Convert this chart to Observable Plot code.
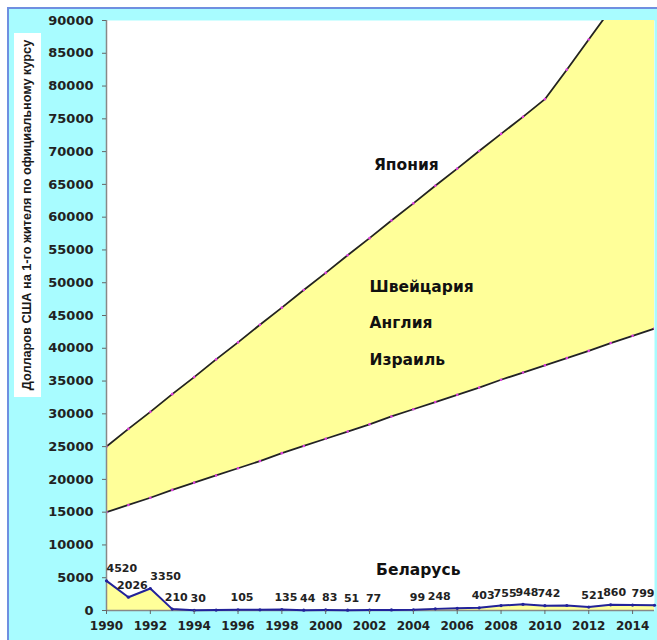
<!DOCTYPE html>
<html><head><meta charset="utf-8">
<script src="https://cdn.jsdelivr.net/npm/d3@7"></script>
<script src="https://cdn.jsdelivr.net/npm/@observablehq/plot@0.6"></script>
<style>
html,body{margin:0;padding:0;background:#fff;}
#wrap{position:relative;width:657px;height:640px;overflow:hidden;background:#fff;}
#panel{position:absolute;left:7px;top:7px;width:650px;height:633px;background:#a8fcff;border-left:2px solid #6f8fe0;border-top:2px solid #6f8fe0;box-sizing:border-box;}
#chart{position:absolute;left:0;top:0;}
#ylab{position:absolute;left:14px;top:397px;width:364px;height:27px;background:#fff;transform-origin:0 0;transform:rotate(-90deg);
 font-family:"Liberation Sans Narrow","Arial Narrow","Liberation Sans",Arial,sans-serif;font-weight:bold;font-size:12.7px;line-height:27px;text-align:center;color:#1a1a1a;white-space:nowrap;}
</style></head>
<body><div id="wrap"><div id="panel"></div><div id="chart"></div><div id="ylab">Долларов США на 1-го жителя по официальному курсу</div></div>
<script>
const years = [1990,1991,1992,1993,1994,1995,1996,1997,1998,1999,2000,2001,2002,2003,2004,2005,2006,2007,2008,2009,2010,2011,2012,2013,2014,2015];
const upperBand = [25000,27700,30300,33000,35600,38300,40900,43600,46200,48900,51500,54200,56800,59500,62100,64800,67400,70100,72700,75300,78000,82500,87100,91700,96300,100900];
const lowerBand = [15000,16100,17200,18400,19500,20600,21700,22800,24000,25100,26200,27300,28400,29600,30700,31800,32900,34000,35200,36300,37400,38500,39600,40800,41900,43000];
const belarus = [4520,2026,3350,210,30,70,105,110,135,44,83,51,77,90,99,248,330,403,755,948,742,760,521,860,820,799];
const belarusLabelYears = [1990,1991,1992,1993,1994,1996,1998,1999,2000,2001,2002,2004,2005,2007,2008,2009,2010,2012,2013,2015];
const xTicks = [1990,1992,1994,1996,1998,2000,2002,2004,2006,2008,2010,2012,2014];
const yTicks = [0,5000,10000,15000,20000,25000,30000,35000,40000,45000,50000,55000,60000,65000,70000,75000,80000,85000,90000];
const countryNames = ["Япония","Швейцария","Англия","Израиль","Беларусь"];
const countryX = [2002.2,2002,2002,2002,2002.3];
const countryY = [68000,49300,43800,38200,6100];

const band = years.map((y,i)=>({year:y, lo:lowerBand[i], hi:upperBand[i]}));
const bel = years.map((y,i)=>({year:y, v:belarus[i]}));
const belLab = bel.filter(d=>belarusLabelYears.includes(d.year));
const names = countryNames.map((n,i)=>({name:n, x:countryX[i], y:countryY[i]}));

const rightSide = d => d.year === 1990 || d.year === 1992;
const font = "'DejaVu Sans', Verdana, sans-serif";
const labStyle = {x:"year", y:"v", text:d=>String(d.v), dy:-12, fontSize:11, fontWeight:"bold", fill:"#222"};
const plot = Plot.plot({
  width:657, height:640,
  marginLeft:106, marginRight:3, marginTop:20, marginBottom:30,
  style:{background:"transparent", fontFamily:font, fontWeight:"bold", fontSize:"12px", color:"#222", overflow:"visible"},
  x:{domain:[1990,2015]},
  y:{domain:[0,90000]},
  marks:[
    Plot.frame({fill:"white", stroke:null}),
    Plot.areaY(band,{x:"year", y1:"lo", y2:"hi", fill:"#ffff99", clip:true}),
    Plot.areaY(bel,{x:"year", y:"v", fill:"#ffff99", clip:true}),
    Plot.line(band,{x:"year", y:"hi", stroke:"#222", strokeWidth:1.8, clip:true}),
    Plot.line(band,{x:"year", y:"lo", stroke:"#222", strokeWidth:1.8, clip:true}),
    Plot.dot(band,{x:"year", y:"hi", r:1.3, fill:"#e040e0", clip:true}),
    Plot.dot(band,{x:"year", y:"lo", r:1.3, fill:"#e040e0", clip:true}),
    Plot.ruleX([1990],{stroke:"#888", strokeWidth:1.5}),
    Plot.ruleY([0],{stroke:"#888", strokeWidth:1.5}),
    Plot.line(bel,{x:"year", y:"v", stroke:"#22229a", strokeWidth:2}),
    Plot.dot(bel,{x:"year", y:"v", r:1.6, fill:"#22229a"}),
    Plot.text(belLab.filter(rightSide),{...labStyle, textAnchor:"start", dx:0}),
    Plot.text(belLab.filter(d=>d.year===2015),{...labStyle, textAnchor:"end", dx:0}),
    Plot.text(belLab.filter(d=>!rightSide(d) && d.year<2015),{...labStyle, textAnchor:"middle", dx:4}),
    Plot.text(names,{x:"x", y:"y", text:"name", textAnchor:"start", fontSize:15.5, fontWeight:"bold", fill:"#111", style:{letterSpacing:"1.4px"}}),
    Plot.axisY({ticks:yTicks, tickFormat:d3.format("d"), tickSize:4, tickPadding:9, label:null, stroke:"#666", fontSize:13}),
    Plot.axisX({ticks:xTicks, tickFormat:d3.format("d"), tickSize:4, tickPadding:7, label:null, stroke:"#666", fontSize:12})
  ]
});
document.getElementById("chart").appendChild(plot);
</script>
</body></html>
